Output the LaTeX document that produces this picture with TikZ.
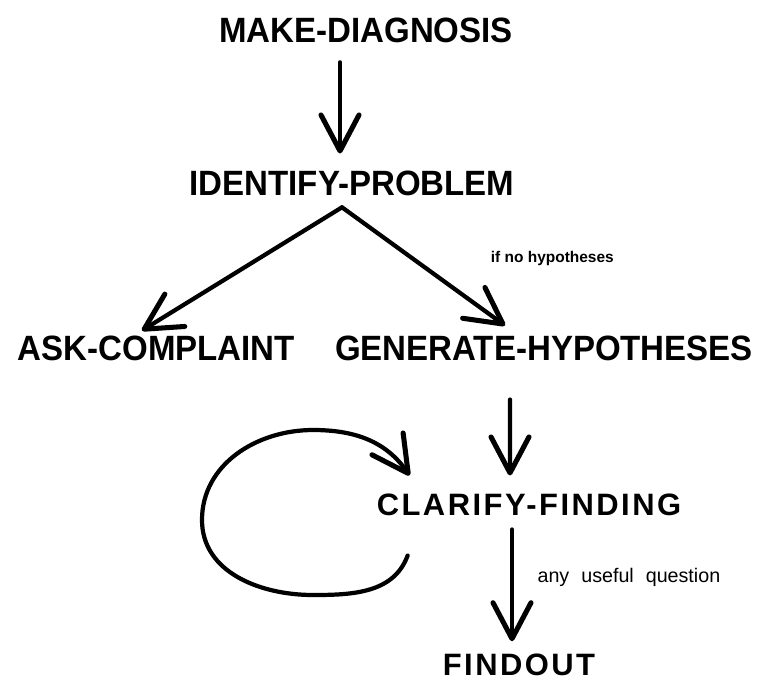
\documentclass[tikz,border=0pt]{standalone}
\usepackage{fontspec}
\setmainfont{Liberation Sans}
\newfontfamily\narrow[FakeStretch=0.94]{Liberation Sans}
\newfontfamily\spaced[LetterSpace=8]{Liberation Sans}
\usetikzlibrary{arrows.meta}

\begin{document}
\begin{tikzpicture}[
	big/.style={anchor=base,font={\narrow\bfseries\fontsize{25}{30}\selectfont}},
	wide/.style={anchor=base,font={\spaced\bfseries\fontsize{22}{26}\selectfont}},
	arr/.style={line width=3pt,line cap=round,-{Straight Barb[round,length=0.9cm,width=0.95cm,line width=3.6pt]}}
]
	\useasboundingbox (0,0) rectangle (19.275,-17.075);
	
		\node[big] (md) at (9.15,-1.05) {MAKE-DIAGNOSIS};
		\node[big] (ip) at (8.8,-4.875) {IDENTIFY-PROBLEM};
		\node[big] (ac) at (3.91,-9) {ASK-COMPLAINT};
		\node[big] (gh) at (13.6,-9) {GENERATE-HYPOTHESES};
		\node[wide] (cf) at (13.225,-12.875) {CLARIFY-FINDING};
		\node[wide] (fo) at (12.975,-16.875) {FINDOUT};
		
		\path[arr] ([xshift=-0.65cm,yshift=-0.375cm]md.south) edge
			([xshift=-0.3cm,yshift=0.3cm]ip.north);
		\path[arr] ([xshift=-0.25cm,yshift=-0.175cm]ip.south) edge
			([xshift=-0.36cm,yshift=0cm]ac.north);
		\path[arr] ([xshift=-0.25cm,yshift=-0.175cm]ip.south) edge node[pos=0.43,anchor=west,xshift=1.8cm,font=\fontsize{11}{13}\selectfont\bfseries]
			{if no hypotheses} ([xshift=-0.975cm,yshift=0.125cm]gh.north);
		\path[arr] ([xshift=-0.85cm,yshift=-0.855cm]gh.south) edge
			([xshift=-0.475cm,yshift=0.325cm]cf.north);
		\path[arr] ([xshift=-0.425cm,yshift=-0.23cm]cf.south) edge node[pos=0.43,anchor=west,xshift=0.47cm,font=\fontsize{14}{16}\selectfont]
			{any\hspace{0.3cm}useful\hspace{0.3cm}question} ([xshift=-0.175cm,yshift=0.18cm]fo.north);
		
		\draw[arr] ([xshift=0.895cm,yshift=-0.88cm]cf.south west) to[out=-110,in=0] (7.825,-14.875)
			to[out=180,in=-90] (5.05,-13) to[out=90,in=180] (7.825,-10.75)
			to[out=0,in=125] ([xshift=0.945cm,yshift=0.325cm]cf.north west);
		
	\end{tikzpicture}
\end{document}
